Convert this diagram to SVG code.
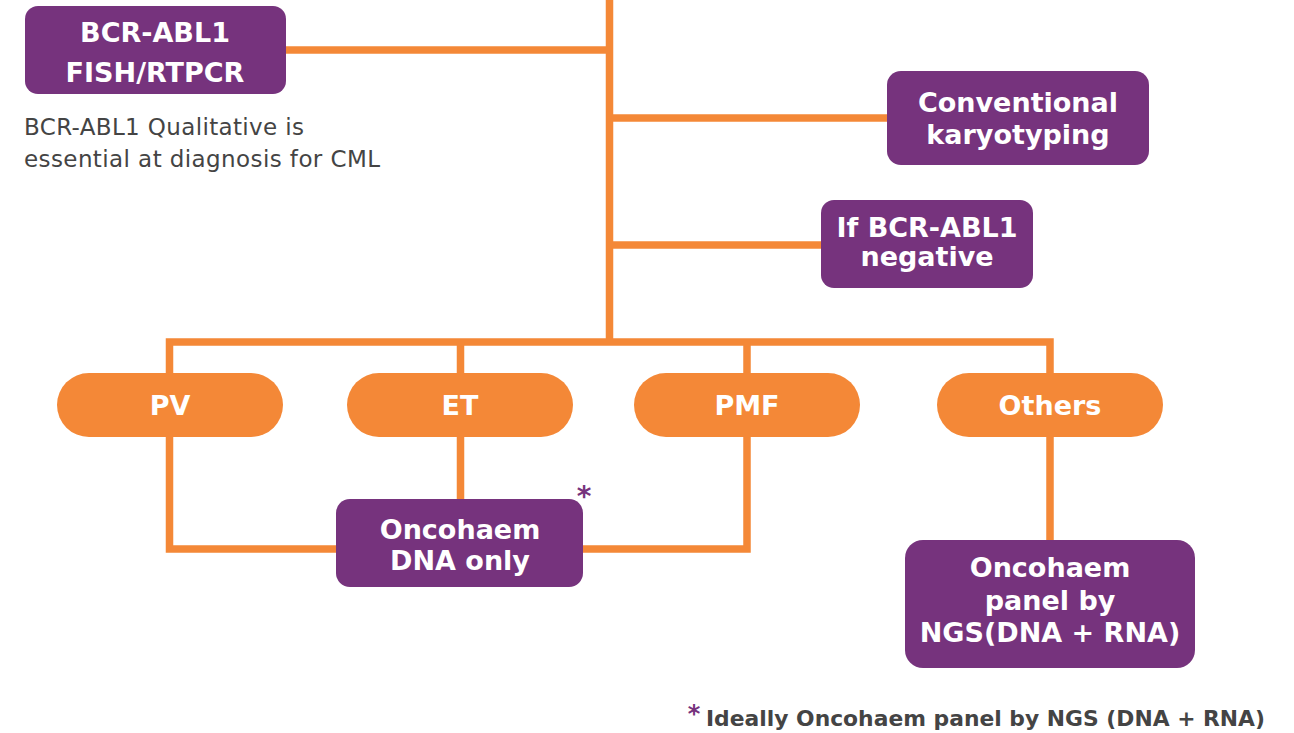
<svg xmlns="http://www.w3.org/2000/svg" width="1294" height="733" viewBox="0 0 1294 733">
<style>
.conn{fill:none;stroke:#F48837;stroke-width:7.5;stroke-linejoin:miter;stroke-linecap:butt}
.box{fill:#76337D}
.pill{fill:#F48837}
.lbl{font-family:"DejaVu Sans",sans-serif;font-weight:bold;font-size:27px;fill:#FFFFFF;text-anchor:middle}
.note{font-family:"DejaVu Sans",sans-serif;font-size:23px;fill:#444444}
.foot{font-family:"DejaVu Sans",sans-serif;font-weight:bold;font-size:21px;fill:#444444}
.star{font-family:"DejaVu Sans",sans-serif;font-weight:bold;fill:#76337D}
</style>
<rect width="1294" height="733" fill="#FFFFFF"/>
<g id="connectors">
<path class="conn" d="M609.5,0 V342"/>
<path class="conn" d="M286,50 H609.5"/>
<path class="conn" d="M609.5,118 H887"/>
<path class="conn" d="M609.5,245 H821"/>
<path class="conn" d="M336,549 H169.5 V342 H1050 V540"/>
<path class="conn" d="M460.5,342 V499"/>
<path class="conn" d="M583,549 H747 V342"/>
</g>
<g id="node-bcr">
<rect class="box" x="25" y="6" width="261" height="88" rx="13"/>
<text class="lbl" x="155" y="42">BCR-ABL1</text>
<text class="lbl" x="155" y="82">FISH/RTPCR</text>
</g>
<g id="note-bcr">
<text class="note" x="24" y="135" textLength="280" lengthAdjust="spacing">BCR-ABL1 Qualitative is</text>
<text class="note" x="24" y="167" textLength="356" lengthAdjust="spacing">essential at diagnosis for CML</text>
</g>
<g id="node-karyo">
<rect class="box" x="887" y="71" width="262" height="94" rx="14"/>
<text class="lbl" x="1018" y="112">Conventional</text>
<text class="lbl" x="1018" y="144">karyotyping</text>
</g>
<g id="node-neg">
<rect class="box" x="821" y="200" width="212" height="88" rx="13"/>
<text class="lbl" x="927" y="237">If BCR-ABL1</text>
<text class="lbl" x="927" y="266">negative</text>
</g>
<g id="node-pv">
<rect class="pill" x="57" y="373" width="226" height="64" rx="32"/>
<text class="lbl" x="170" y="415">PV</text>
</g>
<g id="node-et">
<rect class="pill" x="347" y="373" width="226" height="64" rx="32"/>
<text class="lbl" x="460" y="415">ET</text>
</g>
<g id="node-pmf">
<rect class="pill" x="634" y="373" width="226" height="64" rx="32"/>
<text class="lbl" x="747" y="415">PMF</text>
</g>
<g id="node-others">
<rect class="pill" x="937" y="373" width="226" height="64" rx="32"/>
<text class="lbl" x="1050" y="415">Others</text>
</g>
<g id="node-dna">
<rect class="box" x="336" y="499" width="247" height="88" rx="14"/>
<text class="lbl" x="460" y="539" font-size="26">Oncohaem</text>
<text class="lbl" x="460" y="570" font-size="26">DNA only</text>
<text class="star" x="584" y="506" font-size="28" text-anchor="middle">*</text>
</g>
<g id="node-ngs">
<rect class="box" x="905" y="540" width="290" height="128" rx="18"/>
<text class="lbl" x="1050" y="577">Oncohaem</text>
<text class="lbl" x="1050" y="610">panel by</text>
<text class="lbl" x="1050" y="642">NGS(DNA + RNA)</text>
</g>
<g id="footnote">
<text class="star" x="694" y="722" font-size="24" text-anchor="middle">*</text>
<text class="foot" x="706" y="726" textLength="559" lengthAdjust="spacingAndGlyphs">Ideally Oncohaem panel by NGS (DNA + RNA)</text>
</g>
</svg>
